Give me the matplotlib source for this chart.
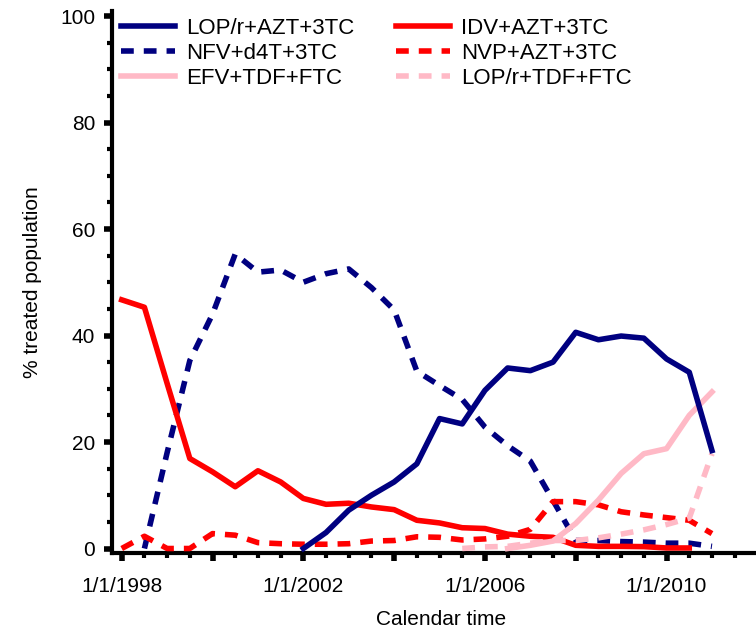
import matplotlib
matplotlib.use('Agg')
import matplotlib.pyplot as plt
from matplotlib.ticker import FixedLocator, MultipleLocator, FuncFormatter

plt.rcParams['font.family'] = ['Liberation Sans', 'DejaVu Sans']

# half-year time points
half_years = [1998.0, 1998.5, 1999.0, 1999.5, 2000.0, 2000.5, 2001.0, 2001.5,
              2002.0, 2002.5, 2003.0, 2003.5, 2004.0, 2004.5, 2005.0, 2005.5,
              2006.0, 2006.5, 2007.0, 2007.5, 2008.0, 2008.5, 2009.0, 2009.5,
              2010.0, 2010.5, 2011.0]

# % treated population per regimen
lop_azt = [0, 3.0, 7.2, 10.0, 12.5, 15.9, 24.4, 23.4, 29.7, 33.9, 33.4, 35.0,
           40.6, 39.2, 39.9, 39.5, 35.6, 33.1, 18.4]                     # 2002 - 2011
nfv_d4t = [0, 18.0, 35.3, 44.0, 55.3, 51.9, 52.3, 50.0, 51.6, 52.5, 49.0, 44.8,
           33.3, 30.6, 28.0, 22.8, 19.3, 16.4, 9.0, 1.5, 1.5, 1.3, 1.2, 1.0,
           1.0, 0.4]                                                     # 1998.5 - 2011
idv_azt = [46.7, 45.3, 31.0, 16.9, 14.4, 11.6, 14.6, 12.5, 9.4, 8.3, 8.5, 7.8,
           7.3, 5.3, 4.8, 3.9, 3.75, 2.7, 2.3, 2.1, 0.6, 0.4, 0.4, 0.35, 0.1,
           0.1]                                                          # 1998 - 2010.5
nvp_azt = [0, 2.3, 0, 0, 2.8, 2.5, 1.1, 0.9, 0.8, 0.8, 0.9, 1.4, 1.5, 2.2, 2.1,
           1.6, 1.8, 2.3, 3.6, 8.8, 8.8, 8.2, 6.9, 6.3, 5.8, 5.3, 2.8]   # 1998 - 2011
efv_tdf = [0, 0.6, 1.4, 4.7, 9.1, 14.1, 17.8, 18.75, 25.0, 29.4]       # 2006.5 - 2011
lop_tdf = [0, 0.3, 0.4, 1.0, 1.5, 1.5, 2.0, 2.7, 3.5, 4.5, 5.7, 17.8]  # 2005.5 - 2011

navy = '#000080'
red = '#ff0000'
pink = '#ffb9c6'
dash = (0, (2.3, 1.8))

fig = plt.figure(figsize=(7.56, 6.29), dpi=100)
ax = fig.add_axes([112 / 756, 1 - 553 / 629, 644 / 756, 542 / 629])

l1, = ax.plot(half_years[8:], lop_azt, color=navy, lw=4, zorder=6, label='LOP/r+AZT+3TC')
l2, = ax.plot(half_years[1:], nfv_d4t, color=navy, lw=4, ls=dash, zorder=1, label='NFV+d4T+3TC')
l3, = ax.plot(half_years[:26], idv_azt, color=red, lw=4, zorder=2, label='IDV+AZT+3TC')
l4, = ax.plot(half_years, nvp_azt, color=red, lw=4, ls=dash, zorder=3, label='NVP+AZT+3TC')
l5, = ax.plot(half_years[17:], efv_tdf, color=pink, lw=4, zorder=4, label='EFV+TDF+FTC')
l6, = ax.plot(half_years[15:], lop_tdf, color=pink, lw=4, ls=dash, zorder=5, label='LOP/r+TDF+FTC')

ax.set_xlim(1997.786, 2011.97)
ax.set_ylim(-0.845, 100.94)

for s in ['top', 'right']:
    ax.spines[s].set_visible(False)
for s in ['left', 'bottom']:
    ax.spines[s].set_linewidth(3)

xlabels = {1998: '1/1/1998', 2002: '1/1/2002', 2006: '1/1/2006', 2010: '1/1/2010'}
ax.xaxis.set_major_locator(FixedLocator([1998, 2000, 2002, 2004, 2006, 2008, 2010]))
ax.xaxis.set_major_formatter(FuncFormatter(lambda v, p: xlabels.get(int(round(v)), '')))
ax.xaxis.set_minor_locator(MultipleLocator(0.5))
ax.yaxis.set_major_locator(FixedLocator([0, 20, 40, 60, 80, 100]))
ax.yaxis.set_minor_locator(MultipleLocator(5))

ax.tick_params(which='major', length=6, width=4, direction='out', labelsize=15)
ax.tick_params(which='minor', length=3.5, width=3, direction='out')
ax.tick_params(axis='x', which='major', pad=11)
ax.tick_params(axis='y', which='major', pad=6)

ax.set_xlabel('Calendar time', fontsize=15)
ax.xaxis.set_label_coords(0.511, -0.105)
ax.set_ylabel('% treated population', fontsize=15)
ax.yaxis.set_label_coords(-0.108, 0.5)

leg = ax.legend(handles=[l1, l2, l5, l3, l4, l6], ncol=2, frameon=False,
                fontsize=16, loc='upper left',
                bbox_to_anchor=(121 / 756, 1 - 18 / 629), bbox_transform=fig.transFigure,
                borderpad=0, borderaxespad=0, handlelength=2.45, handletextpad=0.5,
                columnspacing=1.85, labelspacing=0.17)

fig.savefig('out.png', dpi=100)
